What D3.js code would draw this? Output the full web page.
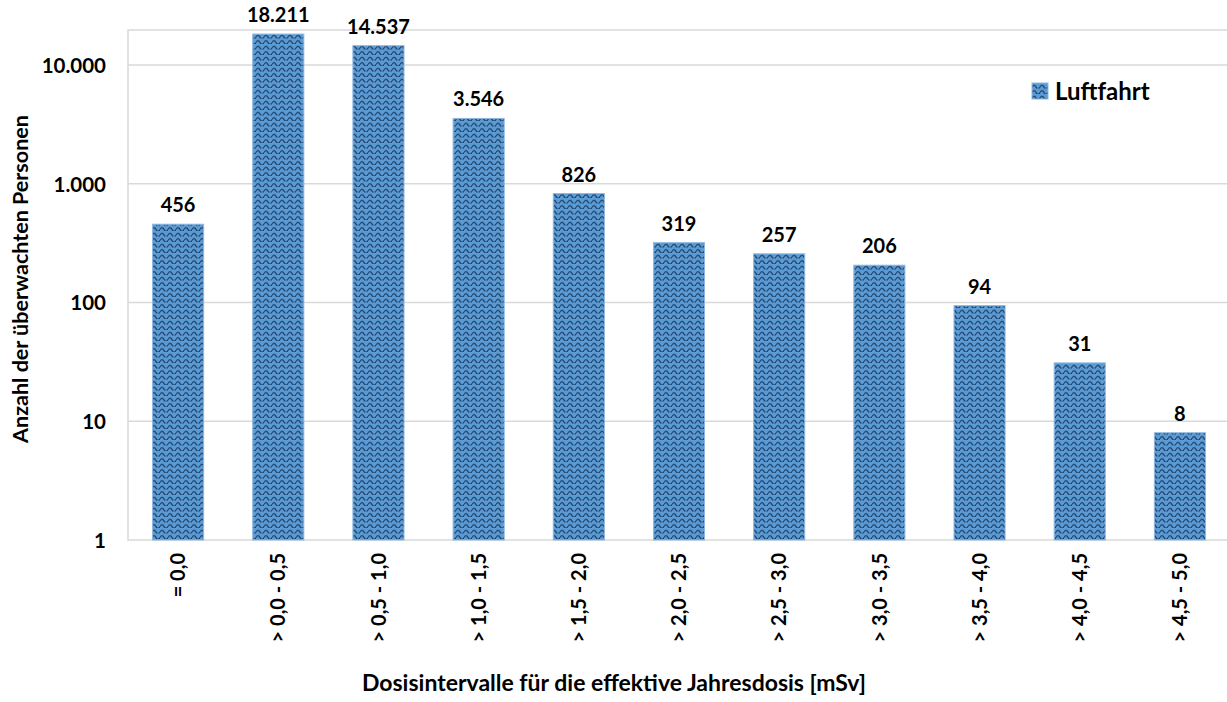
<!DOCTYPE html>
<html>
<head>
<meta charset="utf-8">
<script src="https://cdn.jsdelivr.net/npm/d3@7"></script>
<style>
  body { margin: 0; background: #fff; }
  text { font-family: Lato, "Open Sans", sans-serif; font-weight: bold; fill: #000; }
</style>
</head>
<body>
<div id="chart"></div>
<script>
const categories = ["= 0,0", "> 0,0 - 0,5", "> 0,5 - 1,0", "> 1,0 - 1,5", "> 1,5 - 2,0",
  "> 2,0 - 2,5", "> 2,5 - 3,0", "> 3,0 - 3,5", "> 3,5 - 4,0", "> 4,0 - 4,5", "> 4,5 - 5,0"];
const values = [456, 18211, 14537, 3546, 826, 319, 257, 206, 94, 31, 8];
const yTicks = [1, 10, 100, 1000, 10000];
const seriesName = "Luftfahrt";

const width = 1227;
const height = 702;
const margins = {top: 30, right: -3, bottom: 162, left: 128};

const de = d3.formatLocale({decimal: ",", thousands: ".", grouping: [3], currency: ["", " €"]});
const fmt = de.format(",d");

const svg = d3.select("#chart").append("svg").attr("width", width).attr("height", height);

// Excel-style wave pattern fill
const defs = svg.append("defs");
const pat = defs.append("pattern")
  .attr("id", "wave")
  .attr("patternUnits", "userSpaceOnUse")
  .attr("width", 8).attr("height", 5.5);
pat.append("rect").attr("width", 8).attr("height", 5.5).attr("fill", "#5b9bd5");
pat.append("path")
  .attr("d", "M0,4 Q2,0.2 4,4 T8,4")
  .attr("fill", "none")
  .attr("stroke", "#1c3a5e")
  .attr("stroke-width", 1.1);

const xScale = d3.scaleBand()
  .domain(categories)
  .range([margins.left, width - margins.right])
  .paddingInner(0.49)
  .paddingOuter(0.245);

const yScale = d3.scaleLog()
  .domain([1, 19700])
  .range([height - margins.bottom, margins.top]);

// grid lines
svg.append("g")
  .selectAll("line")
  .data(yTicks.slice(1))
  .enter().append("line")
  .attr("x1", margins.left).attr("x2", width - margins.right)
  .attr("y1", d => yScale(d)).attr("y2", d => yScale(d))
  .attr("stroke", "#d9d9d9").attr("stroke-width", 1.5);

// plot border
svg.append("rect")
  .attr("x", margins.left).attr("y", margins.top)
  .attr("width", width - margins.right - margins.left)
  .attr("height", height - margins.bottom - margins.top)
  .attr("fill", "none").attr("stroke", "#d9d9d9").attr("stroke-width", 1.5);

// bars
svg.append("g")
  .selectAll("rect")
  .data(values)
  .enter().append("rect")
  .attr("x", (d, i) => xScale(categories[i]))
  .attr("y", d => yScale(d))
  .attr("width", xScale.bandwidth())
  .attr("height", d => yScale(1) - yScale(d))
  .attr("fill", "url(#wave)")
  .attr("stroke", "#8fb8e0")
  .attr("stroke-width", 1);

// data labels
svg.append("g")
  .selectAll("text")
  .data(values)
  .enter().append("text")
  .attr("x", (d, i) => xScale(categories[i]) + xScale.bandwidth() / 2)
  .attr("y", d => yScale(d) - 12)
  .attr("text-anchor", "middle")
  .style("font-size", "20px")
  .text(d => fmt(d));

// y axis
const yAxis = d3.axisLeft(yScale).tickValues(yTicks).tickFormat(d => fmt(d)).tickSize(0).tickPadding(22);
const yg = svg.append("g")
  .attr("transform", "translate(" + margins.left + ",0)")
  .call(yAxis);
yg.select(".domain").remove();
yg.selectAll("text").style("font-size", "20.5px").style("font-family", null).attr("dy", "0.36em");

// x axis
const xAxis = d3.axisBottom(xScale).tickSize(0).tickPadding(0);
const xg = svg.append("g")
  .attr("transform", "translate(0," + (height - margins.bottom) + ")")
  .call(xAxis);
xg.select(".domain").remove();
xg.selectAll("text")
  .style("font-size", "20px").style("font-family", null)
  .attr("text-anchor", "end")
  .attr("transform", "translate(0,13) rotate(-90)")
  .attr("x", 0).attr("y", 0)
  .attr("dy", "0.36em");

// axis titles
svg.append("text")
  .attr("transform", "translate(20," + 279 + ") rotate(-90)")
  .attr("text-anchor", "middle")
  .attr("dy", "0.36em")
  .style("font-size", "21.5px")
  .text("Anzahl der überwachten Personen");

svg.append("text")
  .attr("x", 614)
  .attr("y", 683)
  .attr("text-anchor", "middle")
  .attr("dy", "0.36em")
  .style("font-size", "23px")
  .text("Dosisintervalle für die effektive Jahresdosis [mSv]");

// legend
const lg = svg.append("g").attr("transform", "translate(1032,83)");
lg.append("rect").attr("width", 16).attr("height", 16).attr("fill", "url(#wave)").attr("stroke", "#8fb8e0");
lg.append("text").attr("x", 23).attr("y", 8).attr("dy", "0.36em").style("font-size", "24px").text(seriesName);
</script>
</body>
</html>
